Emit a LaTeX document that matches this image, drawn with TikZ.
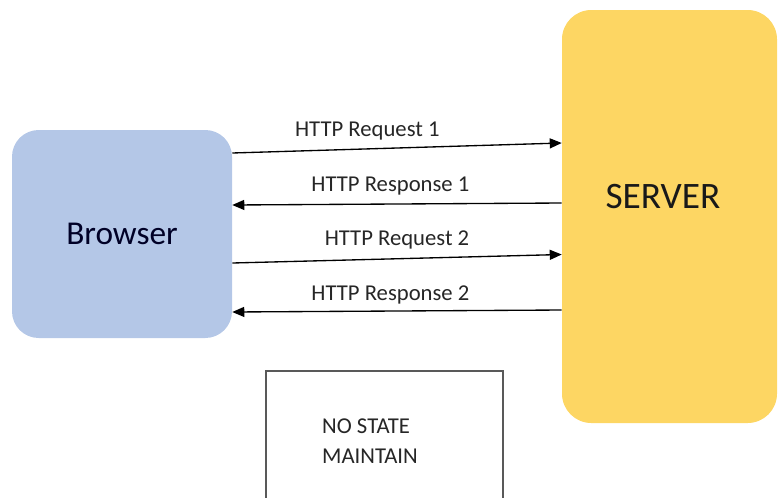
\documentclass[tikz,border=0pt]{standalone}
\usepackage{fontspec}
\setmainfont{Carlito}
\usetikzlibrary{arrows.meta,calc}
\definecolor{browserblue}{HTML}{B4C7E7}
\definecolor{serveryellow}{HTML}{FDD663}
\definecolor{labelgray}{HTML}{262626}
\tikzset{
  box/.style={rectangle, draw=none, inner sep=0pt},
  msg/.style={-{Triangle[length=9pt,width=7.5pt]}, line width=1pt, black},
  lbl/.style={font=\fontsize{17}{20}\selectfont, text=labelgray}
}
\begin{document}
\begin{tikzpicture}[x=0.75pt, y=-0.75pt]
\useasboundingbox (0,0) rectangle (778,497);
\clip (0,0) rectangle (778,497);
% Knoten
\node[box, fill=browserblue, rounded corners=20pt,
      minimum width=220*0.75pt, minimum height=208*0.75pt] (browser) at (122,234) {};
\node[font=\fontsize{25}{30}\selectfont, text=black!85!blue] (browsertxt) at (browser.center) {Browser};

\node[box, fill=serveryellow, rounded corners=22pt,
      minimum width=215*0.75pt, minimum height=413*0.75pt] (server) at (669.5,216.5) {};
\node[font=\fontsize{28}{33}\selectfont, text=black!90] (servertxt) at (663,197) {SERVER};

\node[rectangle, draw=black!65, line width=0.8pt, fill=white,
      minimum width=237*0.75pt, minimum height=160*0.75pt] (state) at (384.5,451) {};
\node[font=\fontsize{17}{22}\selectfont, align=left, text=black!85] (statetxt) at (370,441) {NO STATE\\MAINTAIN};

% Pfeile Browser <-> Server
\draw[msg] ($(browser.east)+(0,-81)$) -- ($(server.west)+(0,-73.5)$)
  node[lbl, pos=0.41, yshift=13.5pt] {HTTP Request 1};
\draw[msg] ($(server.west)+(0,-13.5)$) -- ($(browser.east)+(0,-29)$)
  node[lbl, pos=0.52, yshift=13.5pt] {HTTP Response 1};
\draw[msg] ($(browser.east)+(0,29)$) -- ($(server.west)+(0,38)$)
  node[lbl, pos=0.5, yshift=14pt] {HTTP Request 2};
\draw[msg] ($(server.west)+(0,93.5)$) -- ($(browser.east)+(0,78)$)
  node[lbl, pos=0.52, yshift=12pt] {HTTP Response 2};
\end{tikzpicture}
\end{document}
